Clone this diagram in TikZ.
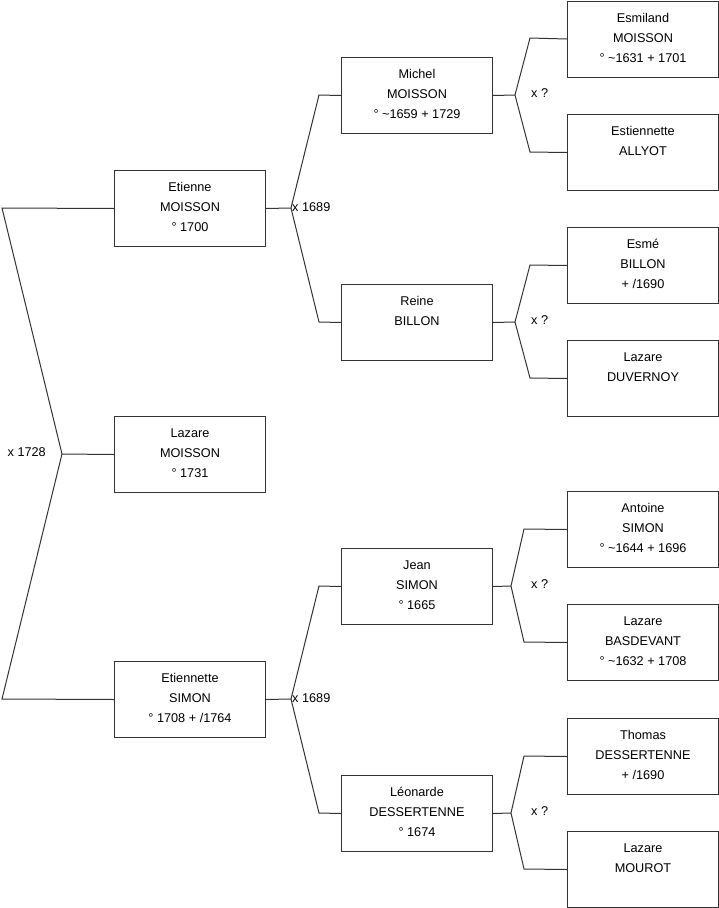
\documentclass[tikz,border=0pt]{standalone}
\usepackage{fontspec}
\setmainfont{Liberation Sans}
\tikzset{
  box/.style={draw=black!80, line width=1pt, rectangle, inner sep=0pt,
    minimum width=151pt, minimum height=76pt, anchor=north west},
  link/.style={draw=black!80, line width=1pt},
  lbl/.style={inner sep=0pt, font=\fontsize{12.7}{15}\selectfont}
}
\newcommand\bxtext[1]{\parbox[c][76pt][t]{151pt}{\centering\fontsize{12.7}{20}\selectfont\rule{0pt}{21pt}#1\par}}
\begin{document}
\begin{tikzpicture}[x=1pt,y=-1pt]
\useasboundingbox (0,0) rectangle (719,908);
% level 1
\node[box] (etm) at (114,170) {\bxtext{Etienne\\MOISSON\\° 1700}};
\node[box] (lzm) at (114,416) {\bxtext{Lazare\\MOISSON\\° 1731}};
\node[box] (ets) at (114,661) {\bxtext{Etiennette\\SIMON\\° 1708 + /1764}};
% level 2
\node[box] (mim) at (341,57) {\bxtext{Michel\\MOISSON\\° \textasciitilde1659 + 1729}};
\node[box] (reb) at (341,284) {\bxtext{Reine\\BILLON}};
\node[box] (jes) at (341,548) {\bxtext{Jean\\SIMON\\° 1665}};
\node[box] (led) at (341,775) {\bxtext{Léonarde\\DESSERTENNE\\° 1674}};
% level 3
\node[box] (esm) at (567,0.5) {\bxtext{Esmiland\\MOISSON\\° \textasciitilde1631 + 1701}};
\node[box] (esa) at (567,114) {\bxtext{Estiennette\\ALLYOT}};
\node[box] (eb) at (567,227) {\bxtext{Esmé\\BILLON\\+ /1690}};
\node[box] (lzd) at (567,340) {\bxtext{Lazare\\DUVERNOY}};
\node[box] (ans) at (567,491) {\bxtext{Antoine\\SIMON\\° \textasciitilde1644 + 1696}};
\node[box] (lzb) at (567,604) {\bxtext{Lazare\\BASDEVANT\\° \textasciitilde1632 + 1708}};
\node[box] (thd) at (567,718) {\bxtext{Thomas\\DESSERTENNE\\+ /1690}};
\node[box] (lzmo) at (567,831) {\bxtext{Lazare\\MOUROT}};
% junction points
\coordinate (a0) at (62,454);
\coordinate (k0a) at (2,208);
\coordinate (k0b) at (2,699);
\coordinate (a1) at (291,208);
\coordinate (k1a) at (319,95);
\coordinate (k1b) at (319,322);
\coordinate (a2) at (291,699);
\coordinate (k2a) at (319,586);
\coordinate (k2b) at (319,813);
\coordinate (a3) at (515,95);
\coordinate (k3a) at (530,38);
\coordinate (k3b) at (530,152);
\coordinate (a4) at (515,322);
\coordinate (k4a) at (530,265);
\coordinate (k4b) at (530,378);
\coordinate (a5) at (511,586);
\coordinate (k5a) at (524,529);
\coordinate (k5b) at (524,642);
\coordinate (a6) at (511,813);
\coordinate (k6a) at (524,756);
\coordinate (k6b) at (524,869);
% connectors
\draw[link] (lzm.west) -- (a0);
\draw[link] (etm.west) -- (k0a) -- (a0) -- (k0b) -- (ets.west);
\draw[link] (etm.east) -- (a1);
\draw[link] (mim.west) -- (k1a) -- (a1) -- (k1b) -- (reb.west);
\draw[link] (ets.east) -- (a2);
\draw[link] (jes.west) -- (k2a) -- (a2) -- (k2b) -- (led.west);
\draw[link] (mim.east) -- (a3);
\draw[link] (esm.west) -- (k3a) -- (a3) -- (k3b) -- (esa.west);
\draw[link] (reb.east) -- (a4);
\draw[link] (eb.west) -- (k4a) -- (a4) -- (k4b) -- (lzd.west);
\draw[link] (jes.east) -- (a5);
\draw[link] (ans.west) -- (k5a) -- (a5) -- (k5b) -- (lzb.west);
\draw[link] (led.east) -- (a6);
\draw[link] (thd.west) -- (k6a) -- (a6) -- (k6b) -- (lzmo.west);
% labels
\node[lbl, anchor=east] (l0) at (46,452) {x 1728};
\node[lbl, anchor=west] (l1) at (292,207) {x 1689};
\node[lbl, anchor=west] (l2) at (292,698) {x 1689};
\node[lbl, anchor=west] (l3) at (531,93) {x ?};
\node[lbl, anchor=west] (l4) at (531,320) {x ?};
\node[lbl, anchor=west] (l5) at (531,584) {x ?};
\node[lbl, anchor=west] (l6) at (531,811) {x ?};
\end{tikzpicture}
\end{document}
